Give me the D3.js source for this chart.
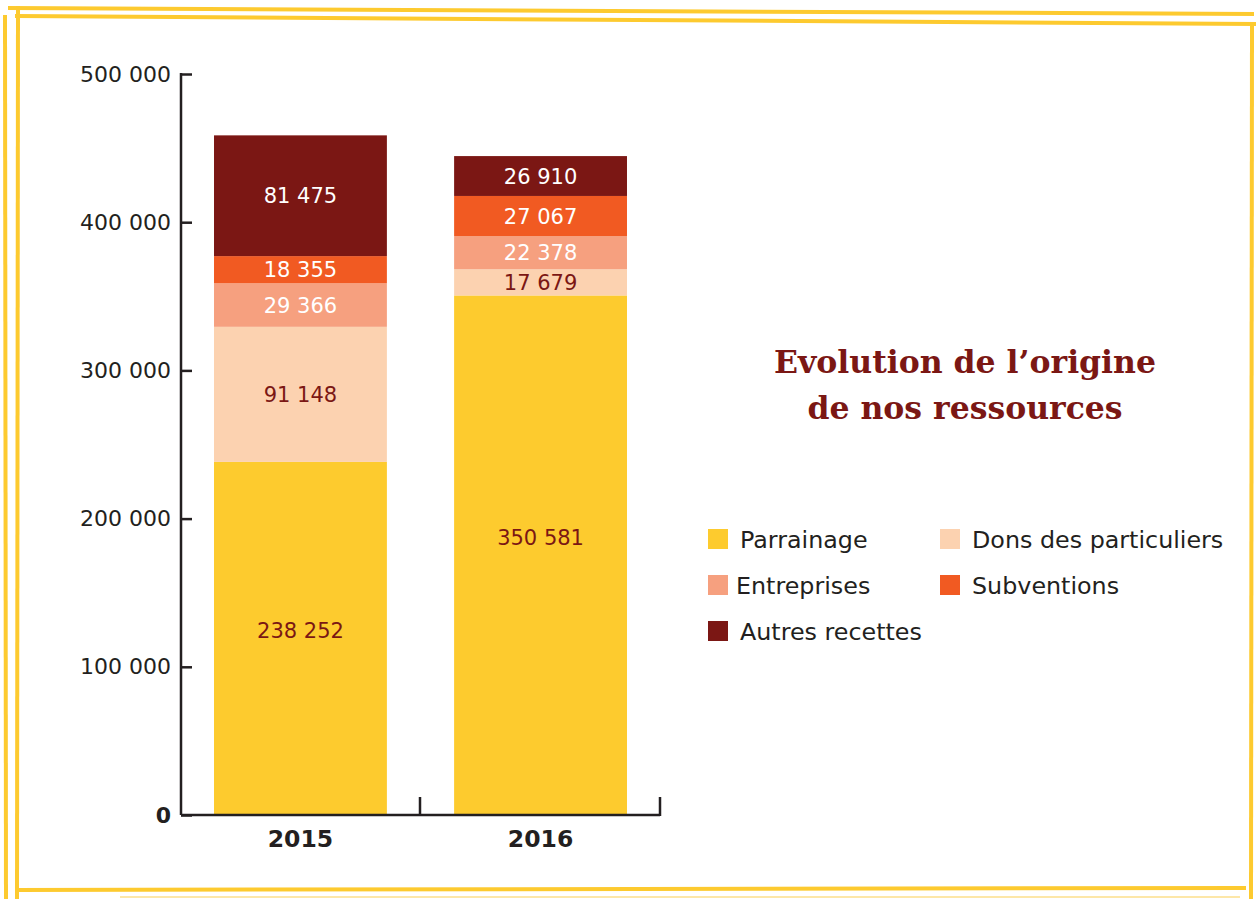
<!DOCTYPE html>
<html>
<head>
<meta charset="utf-8">
<script src="https://cdn.jsdelivr.net/npm/d3@7"></script>
<style>
  body { margin: 0; background: #fff; }
  svg { display: block; }
</style>
</head>
<body>
<script>
// data
var years = ["2015", "2016"];
var seriesNames = ["Parrainage", "Dons des particuliers", "Entreprises", "Subventions", "Autres recettes"];
var parrainage = [238252, 350581];
var dons = [91148, 17679];
var entreprises = [29366, 22378];
var subventions = [18355, 27067];
var autres = [81475, 26910];
var yTicks = [0, 100000, 200000, 300000, 400000, 500000];

var colors = ["#fdcb2e", "#fcd2b0", "#f6a07f", "#f15a22", "#7b1714"];
var labelColors = ["#7b1714", "#7b1714", "#ffffff", "#ffffff", "#ffffff"];

var width = 1256, height = 899;

var svg = d3.select("body").append("svg")
    .attr("width", width)
    .attr("height", height);

//hand drawn yellow frame
var frame = [
    [[8, 8], [1254, 14]],
    [[15, 16], [1256, 24]],
    [[5, 15], [6, 899]],
    [[18, 6], [17, 899]],
    [[1252, 25], [1251, 899]],
    [[15, 890], [1246, 888]]
];
svg.selectAll(".frame")
    .data(frame)
    .enter()
    .append("line")
    .attr("class", "frame")
    .attr("x1", function(d){ return d[0][0]; })
    .attr("y1", function(d){ return d[0][1]; })
    .attr("x2", function(d){ return d[1][0]; })
    .attr("y2", function(d){ return d[1][1]; })
    .attr("stroke", "#fdca2f")
    .attr("stroke-width", 4);
svg.append("line")
    .attr("x1", 120).attr("y1", 897).attr("x2", 1240).attr("y2", 897)
    .attr("stroke", "#fde7a8").attr("stroke-width", 2);

//scales
var x = d3.scaleBand()
    .domain(years)
    .range([181, 660])
    .paddingInner(0.28)
    .paddingOuter(0.1375);

var y = d3.scaleLinear()
    .domain([0, 500000])
    .range([815, 74]);

//stack the series
var rows = years.map(function(yr, i){
    return {
        year: yr,
        "Parrainage": parrainage[i],
        "Dons des particuliers": dons[i],
        "Entreprises": entreprises[i],
        "Subventions": subventions[i],
        "Autres recettes": autres[i]
    };
});
var stacked = d3.stack().keys(seriesNames)(rows);

var layers = svg.selectAll(".layer")
    .data(stacked)
    .enter()
    .append("g")
    .attr("class", "layer")
    .attr("fill", function(d, i){ return colors[i]; });

layers.selectAll("rect")
    .data(function(d){ return d; })
    .enter()
    .append("rect")
    .attr("x", function(d){ return x(d.data.year); })
    .attr("width", x.bandwidth())
    .attr("y", function(d){ return y(d[1]); })
    .attr("height", function(d){ return y(d[0]) - y(d[1]); });

var fmt = function(v){ return d3.format(",")(v).replace(/,/g, " "); };

//the bottom labels sit a bit above the middle of their segment
var baseLabelShift = [-8, -18];

layers.each(function(s, si){
    d3.select(this).selectAll("text")
        .data(s)
        .enter()
        .append("text")
        .attr("x", function(d){ return x(d.data.year) + x.bandwidth() / 2; })
        .attr("y", function(d, i){
            var mid = (y(d[0]) + y(d[1])) / 2;
            return si === 0 ? mid + baseLabelShift[i] : mid;
        })
        .attr("dy", "0.36em")
        .attr("text-anchor", "middle")
        .attr("font-family", "'DejaVu Sans', Verdana, sans-serif")
        .attr("font-size", 21)
        .attr("fill", labelColors[si])
        .text(function(d){ return fmt(d[1] - d[0]); });
});

//y axis
var yAxis = d3.axisRight(y)
    .tickValues(yTicks)
    .tickSize(11)
    .tickFormat(function(d){ return fmt(d); });
var yg = svg.append("g")
    .attr("transform", "translate(181,0)")
    .call(yAxis);
yg.select(".domain").remove();
yg.selectAll(".tick line").attr("stroke", "#231f20").attr("stroke-width", 2.5);
yg.selectAll(".tick text")
    .attr("x", -10)
    .attr("text-anchor", "end")
    .attr("font-family", "'DejaVu Sans', Verdana, sans-serif")
    .attr("font-size", 22)
    .attr("fill", "#231f20")
    .attr("font-weight", function(d){ return d === 0 ? "bold" : "normal"; });
yg.append("line")
    .attr("x1", 0).attr("x2", 0)
    .attr("y1", y(500000) - 1).attr("y2", y(0))
    .attr("stroke", "#231f20").attr("stroke-width", 2.5);

//x axis
svg.append("line")
    .attr("x1", 181).attr("x2", 660)
    .attr("y1", y(0)).attr("y2", y(0))
    .attr("stroke", "#231f20").attr("stroke-width", 2.5);
svg.selectAll(".xtick")
    .data([420, 660])
    .enter()
    .append("line")
    .attr("class", "xtick")
    .attr("x1", function(d){ return d; }).attr("x2", function(d){ return d; })
    .attr("y1", y(0) + 1).attr("y2", y(0) - 18)
    .attr("stroke", "#231f20").attr("stroke-width", 2.5);
svg.selectAll(".xlabel")
    .data(years)
    .enter()
    .append("text")
    .attr("class", "xlabel")
    .attr("x", function(d){ return x(d) + x.bandwidth() / 2; })
    .attr("y", 847)
    .attr("text-anchor", "middle")
    .attr("font-family", "'DejaVu Sans', Verdana, sans-serif")
    .attr("font-weight", "bold")
    .attr("font-size", 23.5)
    .attr("fill", "#231f20")
    .text(function(d){ return d; });

//title
var title = svg.append("text")
    .attr("x", 965)
    .attr("text-anchor", "middle")
    .attr("font-family", "'DejaVu Serif', 'Liberation Serif', serif")
    .attr("font-weight", "bold")
    .attr("font-size", 31.5)
    .attr("fill", "#7b1714");
title.append("tspan").attr("x", 965).attr("y", 373).text("Evolution de l\u2019origine");
title.append("tspan").attr("x", 965).attr("y", 419).text("de nos ressources");

//legend
var legendPos = [[708, 539], [940, 539], [708, 585], [940, 585], [708, 631]];
var legend = svg.selectAll(".legend")
    .data(seriesNames)
    .enter()
    .append("g")
    .attr("class", "legend")
    .attr("transform", function(d, i){ return "translate(" + legendPos[i][0] + "," + legendPos[i][1] + ")"; });
legend.append("rect")
    .attr("x", 0).attr("y", -10)
    .attr("width", 20).attr("height", 20)
    .attr("fill", function(d, i){ return colors[i]; });
legend.append("text")
    .attr("x", function(d, i){ return i === 2 ? 28 : 32; })
    .attr("dy", "0.36em")
    .attr("font-family", "'DejaVu Sans', Verdana, sans-serif")
    .attr("font-size", 23.8)
    .attr("fill", "#231f20")
    .text(function(d){ return d; });
</script>
</body>
</html>
